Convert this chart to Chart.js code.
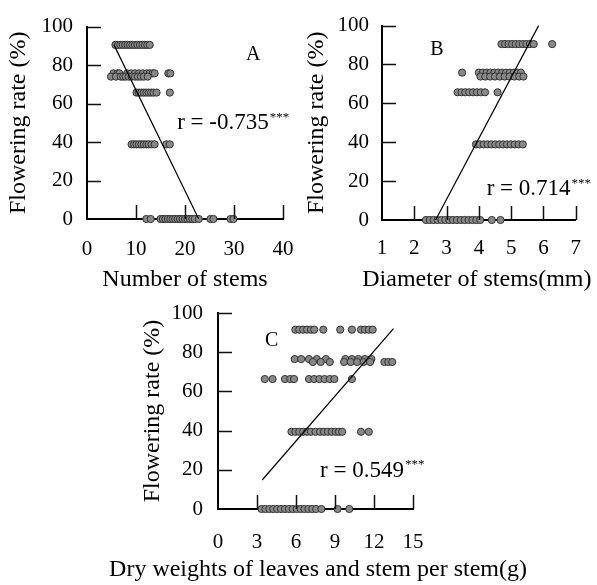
<!DOCTYPE html>
<html><head><meta charset="utf-8">
<script src="https://cdn.jsdelivr.net/npm/chart.js@4.4.1/dist/chart.umd.min.js"></script>
<style>
html,body{margin:0;padding:0;background:#fff;}
#wrap{position:relative;width:597px;height:585px;background:#fff;}
canvas{position:absolute;left:0;top:0;}
</style></head><body>
<div id="wrap">
<canvas id="cA" width="597" height="585"></canvas>
<canvas id="cB" width="597" height="585"></canvas>
<canvas id="cC" width="597" height="585"></canvas>
</div>
<script>
// ---------- DATA ----------
// Flowering-rate levels (%) for each row of points, per panel
const levelsA = [90.5, 75.7, 74.0, 65.7, 38.8, 0];
const levelsB = [90.5, 75.8, 73.8, 65.7, 38.9, 0];
const levelsC = [91.5, 76.5, 75.0, 66.3, 39.4, 0];

// Panel A: number of stems, one list per level above
const stemsA = [
  [5.8, 6.3, 6.8, 7.3, 7.8, 8.3, 8.8, 9.3, 9.8, 10.3, 10.8, 11.3, 11.8, 12.3, 12.8],
  [5.4, 6.2, 6.6, 8.2, 9.0, 9.8, 10.6, 11.4, 12.2, 12.8, 13.4, 13.8, 16.6, 17.0],
  [4.9, 5.9, 6.9, 7.4, 7.9, 8.5, 9.1, 9.8, 10.4, 11.0, 11.6, 12.4],
  [10.1, 10.6, 11.1, 11.6, 12.1, 12.6, 13.1, 13.6, 14.2, 16.9],
  [9.1, 9.6, 10.1, 10.6, 11.1, 11.6, 12.1, 12.6, 13.2, 13.8, 16.2, 16.9],
  [12.1, 13.0, 15.0, 15.5, 16.0, 16.5, 17.0, 17.5, 18.0, 18.5, 19.0, 19.5, 20.0, 20.5, 21.0, 21.5, 22.0, 22.8, 25.2, 25.8, 29.3, 29.9]
];
// Panel B: diameter of stems (mm)
const diameterB = [
  [4.70, 4.81, 4.92, 5.03, 5.14, 5.25, 5.36, 5.47, 5.58, 5.70, 6.27],
  [3.48, 4.00, 4.12, 4.24, 4.36, 4.48, 4.60, 4.72, 4.84, 4.96, 5.08, 5.20, 5.30],
  [4.05, 4.20, 4.35, 4.50, 4.65, 4.80, 4.95, 5.10, 5.25, 5.38],
  [3.34, 3.46, 3.58, 3.70, 3.82, 3.94, 4.06, 4.19, 4.58],
  [3.91, 4.03, 4.15, 4.27, 4.39, 4.51, 4.63, 4.75, 4.87, 4.99, 5.11, 5.23, 5.36],
  [2.36, 2.48, 2.60, 2.72, 2.84, 2.96, 3.08, 3.20, 3.32, 3.44, 3.56, 3.68, 3.80, 3.92, 4.04, 4.40, 4.67]
];
// Panel C: dry weight of leaves and stem per stem (g)
const dryWeightC = [
  [5.95, 6.25, 6.55, 6.85, 7.15, 7.4, 8.1, 9.4, 10.3, 11.0, 11.3, 11.6, 11.9],
  [5.9, 6.4, 7.0, 7.6, 8.3, 9.8, 10.3, 10.8, 11.3, 11.8],
  [7.3, 7.9, 8.6, 9.7, 10.2, 10.7, 11.2, 11.7, 12.8, 13.1, 13.4],
  [3.6, 4.2, 5.15, 5.55, 5.85, 7.0, 7.4, 7.8, 8.2, 8.6, 8.95, 10.3],
  [5.65, 5.95, 6.25, 6.55, 6.85, 7.15, 7.5, 7.85, 8.15, 8.45, 8.75, 9.05, 9.3, 9.55, 11.0, 11.6],
  [3.35, 3.65, 3.95, 4.25, 4.55, 4.85, 5.15, 5.45, 5.75, 6.05, 6.35, 6.65, 6.95, 7.25, 7.55, 7.95, 9.2, 10.1]
];

// Regression lines (end points)
const fitA_x = [5.5, 22.8], fitA_y = [90.5, 0];
const fitB_x = [2.66, 5.85], fitB_y = [0, 100];
const fitC_x = [3.4, 13.5], fitC_y = [14.8, 92];

// Correlation labels
const rA = 'r = -0.735', rB = 'r = 0.714', rC = 'r = 0.549';
const signif = '***';

// Axis titles
const yTitle = 'Flowering rate (%)';
const xTitleA = 'Number of stems';
const xTitleB = 'Diameter of stems(mm)';
const xTitleC = 'Dry weights of leaves and stem per stem(g)';

// ---------- RENDER ----------
const SERIF = "'Liberation Serif', 'Times New Roman', serif";

function toPoints(levels, rows) {
  const pts = [];
  rows.forEach((xs, i) => xs.forEach(x => pts.push({x: x, y: levels[i]})));
  return pts;
}
function toLine(xs, ys) { return xs.map((x, i) => ({x: x, y: ys[i]})); }

const inwardTicks = {
  id: 'inwardTicks',
  afterDraw(chart, args, opts) {
    const ctx = chart.ctx, xs = chart.scales.x, ys = chart.scales.y;
    const a = chart.chartArea;
    ctx.save();
    ctx.strokeStyle = '#111';
    ctx.lineWidth = 1.5;
    ctx.beginPath();
    xs.ticks.forEach(t => {
      if (t.value === xs.min) return;
      const px = Math.round(xs.getPixelForValue(t.value)) + 0.5;
      ctx.moveTo(px, a.bottom);
      ctx.lineTo(px, a.bottom - 14);
    });
    ys.ticks.forEach(t => {
      if (t.value === ys.min) return;
      const py = Math.round(ys.getPixelForValue(t.value)) + 0.5;
      ctx.moveTo(a.left, py);
      ctx.lineTo(a.left + 14, py);
    });
    ctx.stroke();
    // annotations
    const an = opts;
    ctx.fillStyle = '#000';
    ctx.textBaseline = 'middle';
    ctx.textAlign = 'center';
    ctx.font = '20px ' + SERIF;
    ctx.fillText(an.letter, xs.getPixelForValue(an.letterX), ys.getPixelForValue(an.letterY));
    ctx.textAlign = 'left';
    ctx.font = '23px ' + SERIF;
    const rx = xs.getPixelForValue(an.rX), ry = ys.getPixelForValue(an.rY);
    ctx.fillText(an.rText, rx, ry);
    const w = ctx.measureText(an.rText).width;
    ctx.font = '13px ' + SERIF;
    ctx.fillText(signif, rx + w + 1, ry - 6);
    // x-axis title wider than the plot (drawn centred under the axis, unclamped)
    if (an.wideTitle) {
      ctx.textAlign = 'center';
      ctx.font = '24px ' + SERIF;
      ctx.fillText(an.wideTitle, (a.left + a.right) / 2 + an.wideDx, xs.bottom - an.wideDy);
    }
    ctx.restore();
  }
};

function makePanel(id, p) {
  return new Chart(document.getElementById(id), {
    type: 'scatter',
    data: {
      datasets: [
        {
          type: 'line', data: toLine(p.fitX, p.fitY), borderColor: '#000', borderWidth: 1.2,
          pointRadius: 0, fill: false, order: 0, clip: false, tension: 0
        },
        {
          data: toPoints(p.levels, p.rows), backgroundColor: '#888888', borderColor: '#333333',
          borderWidth: 1, pointRadius: 3.6, order: 1, clip: false
        }
      ]
    },
    options: {
      responsive: false, animation: false, devicePixelRatio: 1,
      layout: { padding: p.pad },
      plugins: { legend: {display: false}, tooltip: {enabled: false}, inwardTicks: p.ann },
      scales: {
        x: {
          type: 'linear', min: p.xMin, max: p.xMax,
          ticks: { stepSize: p.xStep, color: '#000', font: {family: SERIF, size: 21}, padding: p.xTickPad, maxRotation: 0, autoSkip: false },
          grid: { display: false, drawTicks: false },
          border: { display: true, color: '#000', width: 2 },
          title: { display: !!p.xTitle, text: p.xTitle || '', color: '#000', font: {family: SERIF, size: 24}, padding: {top: 0, bottom: 0} },
          afterFit(s) { s.height = p.xH; }
        },
        y: {
          type: 'linear', min: 0, max: 100,
          ticks: { stepSize: 20, color: '#000', font: {family: SERIF, size: 21}, padding: p.yTickPad },
          grid: { display: false, drawTicks: false },
          border: { display: true, color: '#000', width: 2 },
          title: { display: true, text: yTitle, color: '#000', font: {family: SERIF, size: 24}, padding: {top: 2, bottom: 0} },
          afterFit(s) { s.width = p.yW; }
        }
      }
    },
    plugins: [inwardTicks]
  });
}

makePanel('cA', {
  levels: levelsA, rows: stemsA, fitX: fitA_x, fitY: fitA_y,
  xMin: 0, xMax: 40, xStep: 10, xTitle: xTitleA,
  pad: {left: 2, top: 20, right: 314, bottom: 291}, yW: 85, xH: 75, xTickPad: 18, yTickPad: 14,
  ann: {letter: 'A', letterX: 33.9, letterY: 85.5, rText: rA, rX: 18.4, rY: 49.7}
});
makePanel('cB', {
  levels: levelsB, rows: diameterB, fitX: fitB_x, fitY: fitB_y,
  xMin: 1, xMax: 7, xStep: 1, xTitle: null,
  pad: {left: 300, top: 22, right: 19, bottom: 291}, yW: 82, xH: 74, xTickPad: 16, yTickPad: 13,
  ann: {letter: 'B', letterX: 2.70, letterY: 87.5, rText: rB, rX: 4.24, rY: 15.9,
        wideTitle: xTitleB, wideDx: -2, wideDy: 14}
});
makePanel('cC', {
  levels: levelsC, rows: dryWeightC, fitX: fitC_x, fitY: fitC_y,
  xMin: 0, xMax: 15, xStep: 3, xTitle: null,
  pad: {left: 136, top: 313, right: 184, bottom: 2}, yW: 82, xH: 74, xTickPad: 21, yTickPad: 15,
  ann: {letter: 'C', letterX: 4.12, letterY: 86, rText: rC, rX: 7.85, rY: 19.6,
        wideTitle: xTitleC, wideDx: 2.5, wideDy: 13}
});
</script>
</body></html>
